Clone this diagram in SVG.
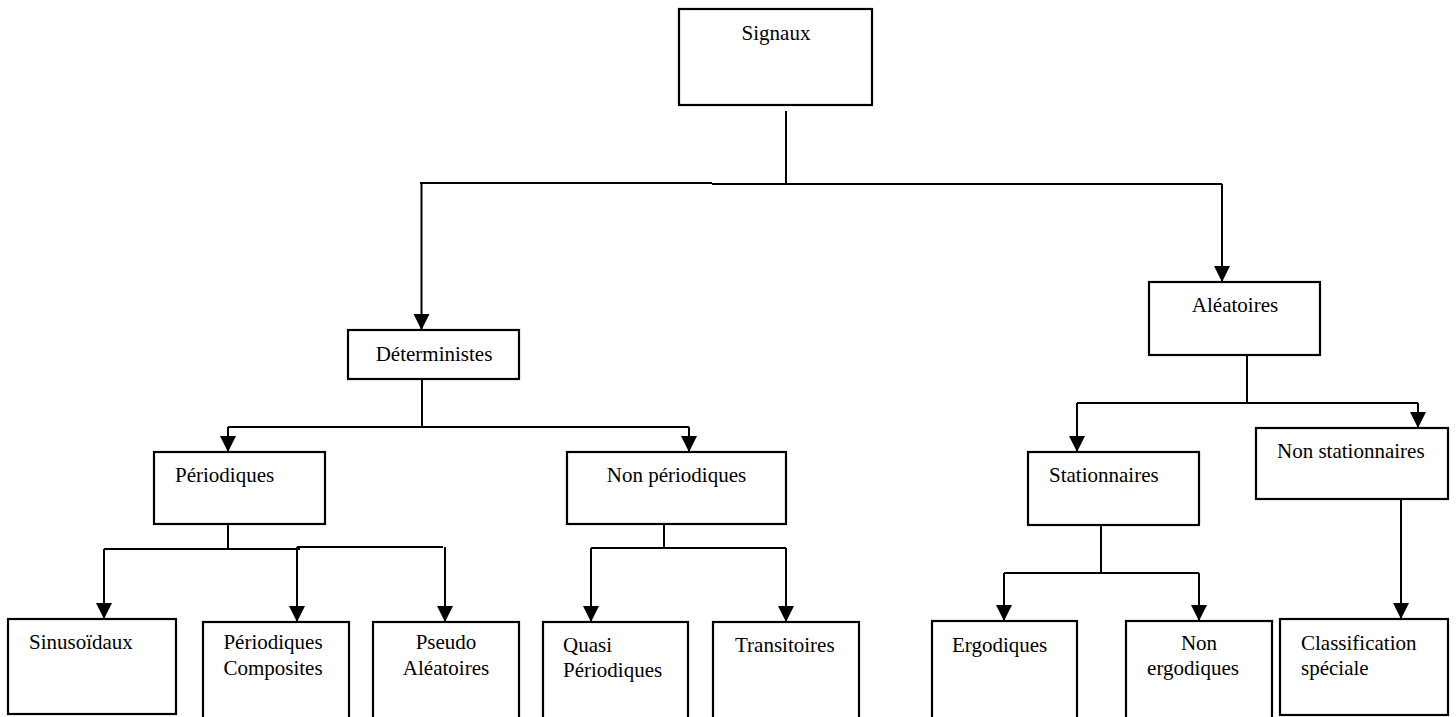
<svg xmlns="http://www.w3.org/2000/svg" width="1456" height="717" viewBox="0 0 1456 717">
<style>
.box{fill:#fff;stroke:#000;stroke-width:2.2}
.ln{fill:none;stroke:#000;stroke-width:2}
.ar{fill:none;stroke:#000;stroke-width:2;marker-end:url(#ah)}
text{font-family:'Liberation Serif','DejaVu Serif',serif;font-size:21px;fill:#000}
.m{text-anchor:middle}
</style>
<defs>
<marker id="ah" markerUnits="userSpaceOnUse" viewBox="0 -9 17 18" refX="16" refY="0" markerWidth="17" markerHeight="18" orient="auto">
<path d="M0,-8 L16,0 L0,8 z" fill="#000"/>
</marker>
</defs>
<rect width="1456" height="717" fill="#fff"/>
<g id="connectors">
<path class="ln" d="M786,111 V184"/>
<path class="ln" d="M420,183 H712"/>
<path class="ln" d="M712,184 H1222"/>
<path class="ar" d="M421.5,183 V330"/>
<path class="ar" d="M1222,184 V282"/>
<path class="ln" d="M422,379 V427"/>
<path class="ln" d="M228,427 H689"/>
<path class="ar" d="M228,427 V452"/>
<path class="ar" d="M689,427 V452"/>
<path class="ln" d="M228,524 V548"/>
<path class="ln" d="M104,549 H300"/>
<path class="ln" d="M297,547 H443"/>
<path class="ar" d="M104,549 V619"/>
<path class="ar" d="M297,547 V622"/>
<path class="ar" d="M445,547 V622"/>
<path class="ln" d="M664,524 V548"/>
<path class="ln" d="M591,548 H786"/>
<path class="ar" d="M591,548 V622"/>
<path class="ar" d="M786,548 V622"/>
<path class="ln" d="M1247,355 V403"/>
<path class="ln" d="M1077,403 H1418"/>
<path class="ar" d="M1077,403 V452"/>
<path class="ar" d="M1418,403 V428"/>
<path class="ln" d="M1101,525 V573"/>
<path class="ln" d="M1004,573 H1199"/>
<path class="ar" d="M1004,573 V621"/>
<path class="ar" d="M1199,573 V621"/>
<path class="ar" d="M1401,499 V619"/>
</g>
<g font-family="Liberation Serif, DejaVu Serif, serif" font-size="21">
<g id="signaux"><rect class="box" x="679" y="9" width="193" height="96"/><text class="m" x="776" y="40">Signaux</text></g>
<g id="deterministes"><rect class="box" x="348" y="330" width="171" height="49"/><text class="m" x="434" y="361">Déterministes</text></g>
<g id="aleatoires"><rect class="box" x="1149" y="282" width="171" height="73"/><text class="m" x="1235" y="312">Aléatoires</text></g>
<g id="periodiques"><rect class="box" x="154" y="452" width="171" height="72"/><text x="175" y="482">Périodiques</text></g>
<g id="non-periodiques"><rect class="box" x="567" y="452" width="219" height="72"/><text class="m" x="676.5" y="482">Non périodiques</text></g>
<g id="stationnaires"><rect class="box" x="1028" y="452" width="171" height="73"/><text x="1049" y="482">Stationnaires</text></g>
<g id="non-stationnaires"><rect class="box" x="1256" y="428" width="192" height="71"/><text x="1277" y="458">Non stationnaires</text></g>
<g id="sinusoidaux"><rect class="box" x="8" y="619" width="168" height="95"/><text x="29" y="649">Sinusoïdaux</text></g>
<g id="periodiques-composites"><rect class="box" x="203" y="622" width="146" height="100"/><text class="m" x="273" y="649">Périodiques</text><text class="m" x="273" y="675">Composites</text></g>
<g id="pseudo-aleatoires"><rect class="box" x="373" y="622" width="146" height="100"/><text class="m" x="446" y="649">Pseudo</text><text class="m" x="446" y="675">Aléatoires</text></g>
<g id="quasi-periodiques"><rect class="box" x="543" y="622" width="145" height="100"/><text x="563" y="652">Quasi</text><text x="563" y="677">Périodiques</text></g>
<g id="transitoires"><rect class="box" x="713" y="622" width="146" height="100"/><text x="735" y="652">Transitoires</text></g>
<g id="ergodiques"><rect class="box" x="932" y="621" width="145" height="100"/><text x="952" y="652">Ergodiques</text></g>
<g id="non-ergodiques"><rect class="box" x="1126" y="621" width="146" height="100"/><text class="m" x="1199" y="650">Non</text><text class="m" x="1193" y="675">ergodiques</text></g>
<g id="classification-speciale"><rect class="box" x="1280" y="619" width="168" height="96"/><text x="1301" y="650">Classification</text><text x="1301" y="675">spéciale</text></g>
</g>
</svg>
